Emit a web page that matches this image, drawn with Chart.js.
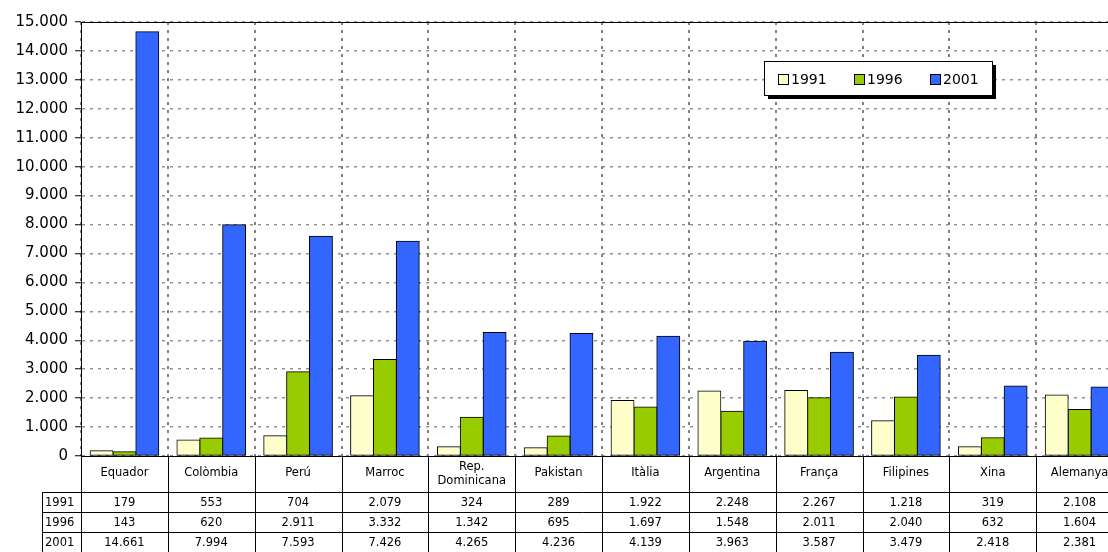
<!DOCTYPE html>
<html>
<head>
<meta charset="utf-8">
<script src="https://cdn.jsdelivr.net/npm/chart.js@4.4.1/dist/chart.umd.min.js"></script>
<style>
    html, body { margin: 0; padding: 0; background: #fff; overflow: hidden; }
    #wrap { position: relative; width: 1108px; height: 552px; overflow: hidden; }
    #paisosChart { position: absolute; left: 0; top: 0; display: block; }
</style>
</head>
<body>
<div id="wrap">
    <canvas id="paisosChart" width="1123" height="552"></canvas>
</div>
<script>
const CATEGORIES = ['Equador', 'Colòmbia', 'Perú', 'Marroc', ['Rep.', 'Dominicana'], 'Pakistan',
    'Itàlia', 'Argentina', 'França', 'Filipines', 'Xina', 'Alemanya'];
const SERIES_LABELS = ['1991', '1996', '2001'];
const VALUES_1991 = [179, 553, 704, 2079, 324, 289, 1922, 2248, 2267, 1218, 319, 2108];
const VALUES_1996 = [143, 620, 2911, 3332, 1342, 695, 1697, 1548, 2011, 2040, 632, 1604];
const VALUES_2001 = [14661, 7994, 7593, 7426, 4265, 4236, 4139, 3963, 3587, 3479, 2418, 2381];
const Y_MIN = 0;
const Y_MAX = 15000;
const Y_STEP = 1000;

const COLORS = ['#FFFFCC', '#99CC00', '#3366FF'];
const FONT = '"DejaVu Sans", Verdana, sans-serif';
const TABLE_FONT = '11.5px ' + FONT;

function formatNum(v) {
    return String(v).replace(/\B(?=(\d{3})+(?!\d))/g, '.');
}

// taula de dades sota l'eix X + llegenda amb ombra
const tablePlugin = {
    id: 'taulaDades',
    afterDraw: function (chart) {
        const ctx = chart.ctx;
        const area = chart.chartArea;
        const x = chart.scales.x;
        const n = CATEGORIES.length;
        const colW = (area.right - area.left) / n;
        const rows = [VALUES_1991, VALUES_1996, VALUES_2001];
        const headerBottom = area.bottom + 36;
        const rowH = 20;
        const labelLeft = 42;
        const bottom = chart.height;

        ctx.save();
        ctx.strokeStyle = '#000';
        ctx.lineWidth = 1;

        // vora superior de l'àrea
        ctx.beginPath();
        ctx.moveTo(area.left, Math.round(area.top) + 0.5);
        ctx.lineTo(area.right, Math.round(area.top) + 0.5);
        ctx.stroke();

        // línies de la taula
        ctx.beginPath();
        for (let i = 0; i <= n; i++) {
            const lx = Math.round(area.left + i * colW) + 0.5;
            ctx.moveTo(lx, area.bottom);
            ctx.lineTo(lx, bottom);
        }
        ctx.moveTo(labelLeft + 0.5, headerBottom);
        ctx.lineTo(labelLeft + 0.5, bottom);
        for (let r = 0; r <= rows.length; r++) {
            const ly = Math.round(headerBottom + r * rowH) + 0.5;
            ctx.moveTo(labelLeft, ly);
            ctx.lineTo(area.right, ly);
        }
        ctx.stroke();

        ctx.fillStyle = '#000';
        ctx.font = TABLE_FONT;
        ctx.textBaseline = 'middle';
        ctx.textAlign = 'center';
        for (let i = 0; i < n; i++) {
            const cx = x.getPixelForValue(i);
            const cat = CATEGORIES[i];
            if (Array.isArray(cat)) {
                ctx.fillText(cat[0], cx, area.bottom + 11);
                ctx.fillText(cat[1], cx, area.bottom + 25);
            } else {
                ctx.fillText(cat, cx, area.bottom + 17);
            }
            for (let r = 0; r < rows.length; r++) {
                ctx.fillText(formatNum(rows[r][i]), cx, headerBottom + r * rowH + rowH / 2 + 1);
            }
        }
        ctx.textAlign = 'left';
        for (let r = 0; r < rows.length; r++) {
            ctx.fillText(SERIES_LABELS[r], labelLeft + 3, headerBottom + r * rowH + rowH / 2 + 1);
        }

        // llegenda
        const lg = { x: 764, y: 61, w: 228, h: 34 };
        ctx.fillStyle = '#000';
        ctx.fillRect(lg.x + 4, lg.y + 4, lg.w, lg.h);
        ctx.fillStyle = '#fff';
        ctx.fillRect(lg.x, lg.y, lg.w, lg.h);
        ctx.strokeRect(lg.x + 0.5, lg.y + 0.5, lg.w, lg.h);
        ctx.font = '14px ' + FONT;
        const itemX = [778, 854, 930];
        for (let s = 0; s < SERIES_LABELS.length; s++) {
            ctx.fillStyle = COLORS[s];
            ctx.fillRect(itemX[s] + 0.5, 74.5, 10, 10);
            ctx.strokeRect(itemX[s] + 0.5, 74.5, 10, 10);
            ctx.fillStyle = '#000';
            ctx.fillText(SERIES_LABELS[s], itemX[s] + 13, 80);
        }
        ctx.restore();
    }
};

function makeDataset(label, data, color) {
    return {
        label: label,
        data: data,
        backgroundColor: color,
        borderColor: '#000',
        borderWidth: 1,
        borderSkipped: false,
        inflateAmount: 0.5,
        barPercentage: 1,
        categoryPercentage: 0.79,
    };
}

const canvas = document.getElementById('paisosChart');
new Chart(canvas.getContext('2d'), {
    type: 'bar',
    data: {
        labels: CATEGORIES,
        datasets: [
            makeDataset(SERIES_LABELS[0], VALUES_1991, COLORS[0]),
            makeDataset(SERIES_LABELS[1], VALUES_1996, COLORS[1]),
            makeDataset(SERIES_LABELS[2], VALUES_2001, COLORS[2]),
        ],
    },
    options: {
        responsive: false,
        animation: false,
        layout: { padding: { top: 22, right: 0, bottom: 0, left: 0 } },
        plugins: { legend: { display: false }, tooltip: { enabled: false } },
        scales: {
            x: {
                afterFit: function (s) { s.height = 96; },
                ticks: { display: false },
                grid: {
                    offset: true,
                    color: '#808080',
                    lineWidth: 2,
                    drawTicks: false,
                },
                border: { display: true, color: '#000', width: 1, dash: [3, 5] },
            },
            y: {
                min: Y_MIN,
                max: Y_MAX,
                afterFit: function (s) { s.width = 81; },
                ticks: {
                    stepSize: Y_STEP,
                    color: '#000',
                    padding: 7,
                    font: { family: FONT, size: 15 },
                    callback: function (v) { return formatNum(v); },
                },
                grid: {
                    color: '#909090',
                    lineWidth: 1.5,
                    tickLength: 6,
                    tickColor: '#000',
                    tickWidth: 1,
                    tickBorderDash: [],
                },
                border: { display: true, color: '#000', width: 1, dash: [3, 5] },
            },
        },
    },
    plugins: [tablePlugin],
});
</script>
</body>
</html>
